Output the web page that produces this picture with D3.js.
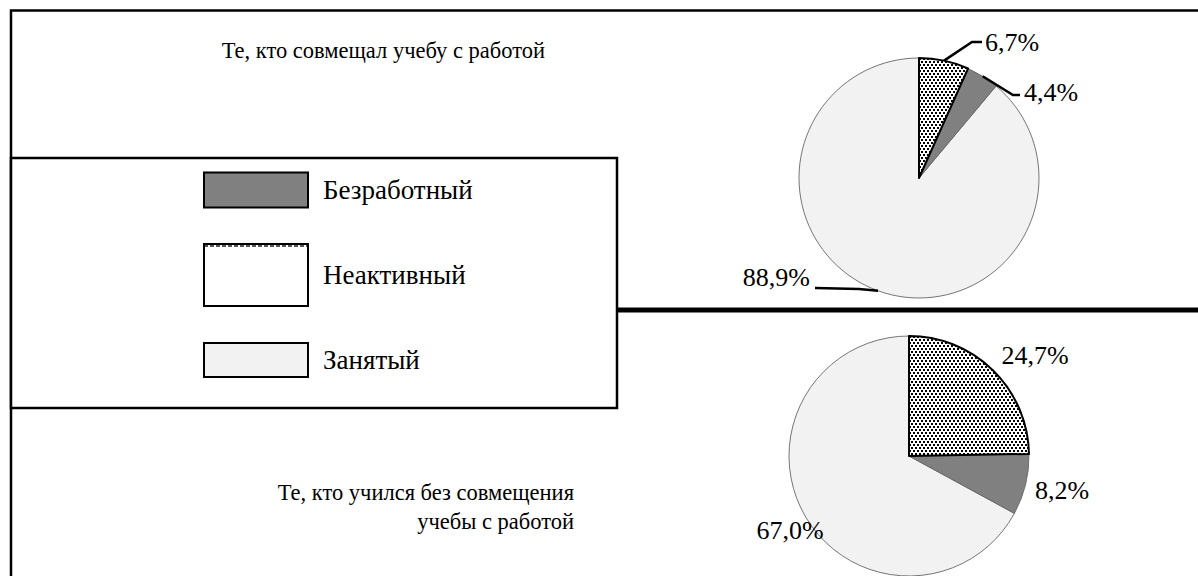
<!DOCTYPE html>
<html>
<head>
<meta charset="utf-8">
<script src="https://cdn.jsdelivr.net/npm/d3@7"></script>
<style>
  body { margin: 0; background: #fff; }
</style>
</head>
<body>
<div class="chart"></div>
<script>
// Data
var categories = ["Неактивный", "Безработный", "Занятый"];
var combinedValues = [6.7, 4.4, 88.9];   // совмещал учебу с работой
var studyOnlyValues = [24.7, 8.2, 67.0]; // учился без совмещения
var legendOrder = ["Безработный", "Неактивный", "Занятый"];
var topTitle = ["Те, кто совмещал учебу с работой"];
var bottomTitle = ["Те, кто учился без совмещения", "учебы с работой"];

var svgWidth = 1198;
var svgHeight = 576;
var serif = "'Liberation Serif', 'DejaVu Serif', serif";

var svg = d3.select(".chart")
  .append("svg")
  .attr("width", svgWidth)
  .attr("height", svgHeight);

// dotted pattern for "Неактивный"
var defs = svg.append("defs");
var pat = defs.append("pattern")
  .attr("id", "dots")
  .attr("patternUnits", "userSpaceOnUse")
  .attr("width", 8).attr("height", 6);
pat.append("rect").attr("width", 8).attr("height", 6).attr("fill", "#fff");
[[0, 0], [4, 0], [2, 3], [6, 3]].forEach(function(p) {
  pat.append("rect").attr("x", p[0]).attr("y", p[1])
    .attr("width", 2).attr("height", 2).attr("fill", "#000");
});

var strip = defs.append("pattern")
  .attr("id", "strip")
  .attr("patternUnits", "userSpaceOnUse")
  .attr("width", 6).attr("height", 4);
strip.append("rect").attr("width", 6).attr("height", 4).attr("fill", "#fff");
strip.append("rect").attr("width", 4).attr("height", 3).attr("fill", "#555");

var color = d3.scaleOrdinal()
  .domain(categories)
  .range(["url(#dots)", "#808080", "#f2f2f2"]);

// frame lines
svg.append("path")
  .attr("d", "M11,576 V10.5 H1198")
  .attr("fill", "none").attr("stroke", "#000").attr("stroke-width", 2.5);
svg.append("line")
  .attr("x1", 617).attr("x2", 1198).attr("y1", 310).attr("y2", 310)
  .attr("stroke", "#000").attr("stroke-width", 5);

// legend box
svg.append("rect")
  .attr("x", 11).attr("y", 158).attr("width", 606).attr("height", 250)
  .attr("fill", "#fff").attr("stroke", "#000").attr("stroke-width", 2.5);

var legendY = d3.scalePoint().domain(legendOrder).range([190, 360]);
var legendH = { "Безработный": 35, "Неактивный": 62, "Занятый": 34 };

var leg = svg.selectAll(".legend")
  .data(legendOrder)
  .enter().append("g")
  .attr("class", "legend");

leg.append("rect")
  .attr("x", 204)
  .attr("y", function(d) { return legendY(d) - legendH[d] / 2; })
  .attr("width", 104)
  .attr("height", function(d) { return legendH[d]; })
  .attr("fill", function(d) { return d === "Неактивный" ? "#fff" : color(d); })
  .attr("stroke", "#000").attr("stroke-width", 2);

leg.filter(function(d) { return d === "Неактивный"; })
  .append("rect")
  .attr("x", 205)
  .attr("y", function(d) { return legendY(d) - legendH[d] / 2 + 1; })
  .attr("width", 102).attr("height", 3)
  .attr("fill", "url(#strip)");

leg.append("text")
  .attr("x", 323)
  .attr("y", function(d) { return legendY(d) + 9; })
  .attr("font-family", serif)
  .attr("font-size", 27)
  .text(function(d) { return d; });

// titles
svg.selectAll(".t1").data(topTitle).enter().append("text")
  .attr("x", 545).attr("y", 58)
  .attr("text-anchor", "end")
  .attr("font-family", serif).attr("font-size", 22.5)
  .text(function(d) { return d; });

svg.selectAll(".t2").data(bottomTitle).enter().append("text")
  .attr("x", 574).attr("y", function(d, i) { return 500 + i * 29; })
  .attr("text-anchor", "end")
  .attr("font-family", serif).attr("font-size", 22.5)
  .text(function(d) { return d; });

// pies
var pie = d3.pie().sort(null).value(function(d) { return d.value; });
var radius = 120;
var arc = d3.arc().innerRadius(0).outerRadius(radius);

function fmt(v) { return v.toFixed(1).replace(".", ",") + "%"; }

function drawPie(values, cx, cy) {
  var data = categories.map(function(c, i) { return { cat: c, value: values[i] }; });
  var g = svg.append("g").attr("transform", "translate(" + cx + "," + cy + ")");
  var arcs = pie(data);
  // lighter slices first so the bold outline sits on top
  [2, 1, 0].forEach(function(i) {
    var a = arcs[i];
    g.append("path")
      .attr("d", arc(a))
      .attr("fill", color(a.data.cat))
      .attr("stroke", a.data.cat === "Неактивный" ? "#000" : "#666")
      .attr("stroke-width", a.data.cat === "Неактивный" ? 2 : 0.9)
      .attr("stroke-linejoin", "round");
  });
  return { g: g, arcs: arcs };
}

function edgePoint(a, r) {
  var ang = (a.startAngle + a.endAngle) / 2;
  return [Math.sin(ang) * r, -Math.cos(ang) * r];
}

// top pie with leader lines
var p1 = drawPie(combinedValues, 919, 178);
var lead1 = [
  { bend: [53, -136], end: [63, -136], tx: 66, ty: -127, anchor: "start" },
  { bend: [94, -83], end: [101, -83], tx: 105, ty: -77, anchor: "start" },
  { bend: [-60, 111], end: [-104, 110], tx: -109, ty: 108, anchor: "end" }
];
p1.arcs.forEach(function(a, i) {
  var s = edgePoint(a, radius);
  var l = lead1[i];
  p1.g.append("polyline")
    .attr("points", [s, l.bend, l.end].map(function(p) { return p.join(","); }).join(" "))
    .attr("fill", "none").attr("stroke", "#000").attr("stroke-width", 2.5);
  p1.g.append("text")
    .attr("x", l.tx).attr("y", l.ty)
    .attr("text-anchor", l.anchor)
    .attr("font-family", serif).attr("font-size", 26)
    .text(fmt(a.data.value));
});

// bottom pie
var p2 = drawPie(studyOnlyValues, 909, 456);
var lab2 = [[126, -92], [153, 43], [-119, 83]];
p2.arcs.forEach(function(a, i) {
  p2.g.append("text")
    .attr("x", lab2[i][0]).attr("y", lab2[i][1])
    .attr("text-anchor", "middle")
    .attr("font-family", serif).attr("font-size", 26)
    .text(fmt(a.data.value));
});
</script>
</body>
</html>
